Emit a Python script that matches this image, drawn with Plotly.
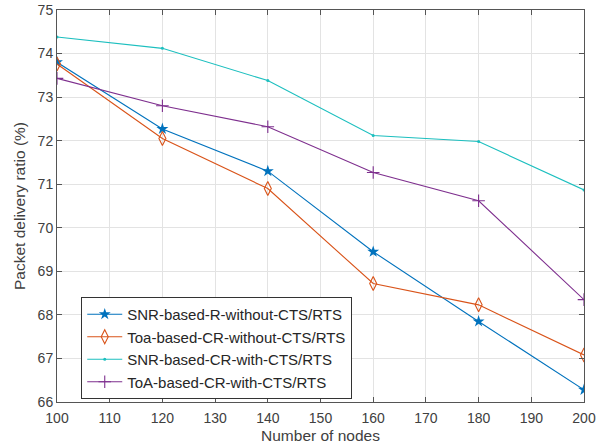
import plotly.graph_objects as go

nodes = [100, 120, 140, 160, 180, 200]
snr_r_without = [73.80, 72.27, 71.30, 69.45, 67.85, 66.28]
toa_cr_without = [73.76, 72.05, 70.90, 68.72, 68.23, 67.08]
snr_cr_with = [74.38, 74.12, 73.38, 72.12, 71.98, 70.87]
toa_cr_with = [73.43, 72.80, 72.32, 71.27, 70.62, 68.35]

series = [
    ("SNR-based-R-without-CTS/RTS", snr_r_without, "#0072BD", dict(symbol="star", size=9)),
    ("Toa-based-CR-without-CTS/RTS", toa_cr_without, "#D95319", dict(symbol="diamond-tall-open", size=10, line=dict(width=1.1))),
    ("SNR-based-CR-with-CTS/RTS", snr_cr_with, "#1CBFBF", dict(symbol="circle", size=3)),
    ("ToA-based-CR-with-CTS/RTS", toa_cr_with, "#7E2F8E", dict(symbol="cross-thin-open", size=9, line=dict(width=1.1))),
]

fig = go.Figure()
for name, vals, color, mk in series:
    m = dict(color=color, **mk)
    if "line" in m:
        m["line"] = dict(color=color, width=m["line"]["width"])
    fig.add_trace(go.Scatter(x=nodes, y=vals, mode="lines+markers", name=name,
                             line=dict(color=color, width=1.1), marker=m))

FONT = "Liberation Sans, Arial, sans-serif"
axis_common = dict(showline=True, linecolor="#555555", linewidth=1, mirror="ticks",
                   ticks="inside", ticklen=5, tickcolor="#555555", automargin=False,
                   showgrid=True, gridcolor="#E3E3E3", gridwidth=1, zeroline=False,
                   tickfont=dict(family=FONT, size=14, color="#404040"))

fig.update_layout(
    width=606, height=445,
    margin=dict(l=57, r=22, t=10, b=43),
    paper_bgcolor="white", plot_bgcolor="white",
    font=dict(family=FONT, color="#404040"),
    xaxis=dict(range=[100, 200], tickmode="linear", tick0=100, dtick=10, ticklabelstandoff=3,
               title=dict(text="Number of nodes", font=dict(size=15.5), standoff=5), **axis_common),
    yaxis=dict(range=[66, 75], tickmode="linear", tick0=66, dtick=1,
               title=dict(text="Packet delivery ratio (%)", font=dict(size=15.5), standoff=8), **axis_common),
    legend=dict(x=0.046, y=0.268, xanchor="left", yanchor="top",
                bgcolor="white", bordercolor="#333333", borderwidth=1,
                font=dict(size=15, color="#262626"), tracegroupgap=0, itemwidth=35),
    showlegend=True,
)

fig.write_html("out.html")
